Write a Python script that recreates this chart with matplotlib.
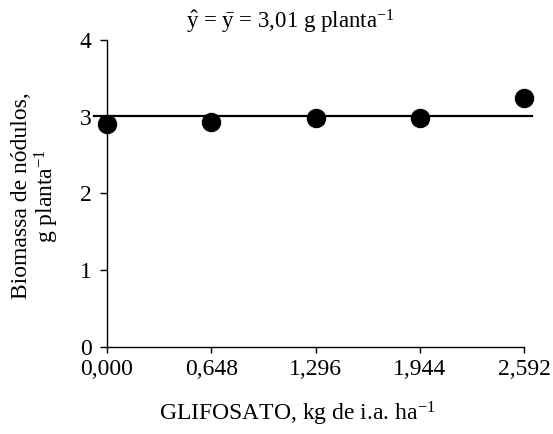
import matplotlib
matplotlib.use("Agg")
import matplotlib.pyplot as plt

plt.rcParams["font.family"] = ["Liberation Serif", "DejaVu Serif"]
plt.rcParams["mathtext.fontset"] = "custom"
plt.rcParams["mathtext.rm"] = "Liberation Serif"
plt.rcParams["mathtext.it"] = "Liberation Serif:italic"

# glyphosate rate (kg a.i./ha) and nodule biomass (g/plant)
doses = [0.000, 0.648, 1.296, 1.944, 2.592]
biomass = [2.91, 2.93, 2.99, 2.99, 3.25]
mean_biomass = 3.01
tick_labels = ["0,000", "0,648", "1,296", "1,944", "2,592"]

fig = plt.figure(figsize=(5.53, 4.34), dpi=100)
ax = fig.add_axes([0.1935, 0.2005, 0.7541, 0.7073])

ax.plot([-0.08, 2.64], [mean_biomass, mean_biomass], color="black",
        linewidth=1.6, clip_on=False, zorder=2)
ax.plot(doses, biomass, "o", color="black", markersize=13,
        clip_on=False, zorder=3)

ax.set_xlim(0, 2.592)
ax.set_ylim(0, 4)
ax.set_xticks(doses)
ax.set_xticklabels(tick_labels)
ax.set_yticks([0, 1, 2, 3, 4])

for side in ["top", "right"]:
    ax.spines[side].set_visible(False)
for side in ["left", "bottom"]:
    ax.spines[side].set_linewidth(1.0)

ax.tick_params(axis="y", direction="out", length=5, width=1, labelsize=17, pad=6)
ax.tick_params(axis="x", direction="out", length=4, width=1, labelsize=17, pad=5)

fig.text(297 / 553, 1 - 421 / 434, "GLIFOSATO, kg de i.a. ha$^{-1}$",
         fontsize=17, ha="center", va="baseline")
fig.text(36 / 553, 1 - 196 / 434, "Biomassa de nódulos,\ng planta$^{-1}$",
         fontsize=17, rotation=90, ha="center", va="center",
         multialignment="center", linespacing=1.0)

ax.text(0.44, 1.06,
        r"$\hat{\mathrm{y}}$ = $\bar{\mathrm{y}}$ = 3,01 g planta$^{-1}$",
        transform=ax.transAxes, ha="center", va="center", fontsize=16.5)

fig.savefig("out.png", dpi=100)
